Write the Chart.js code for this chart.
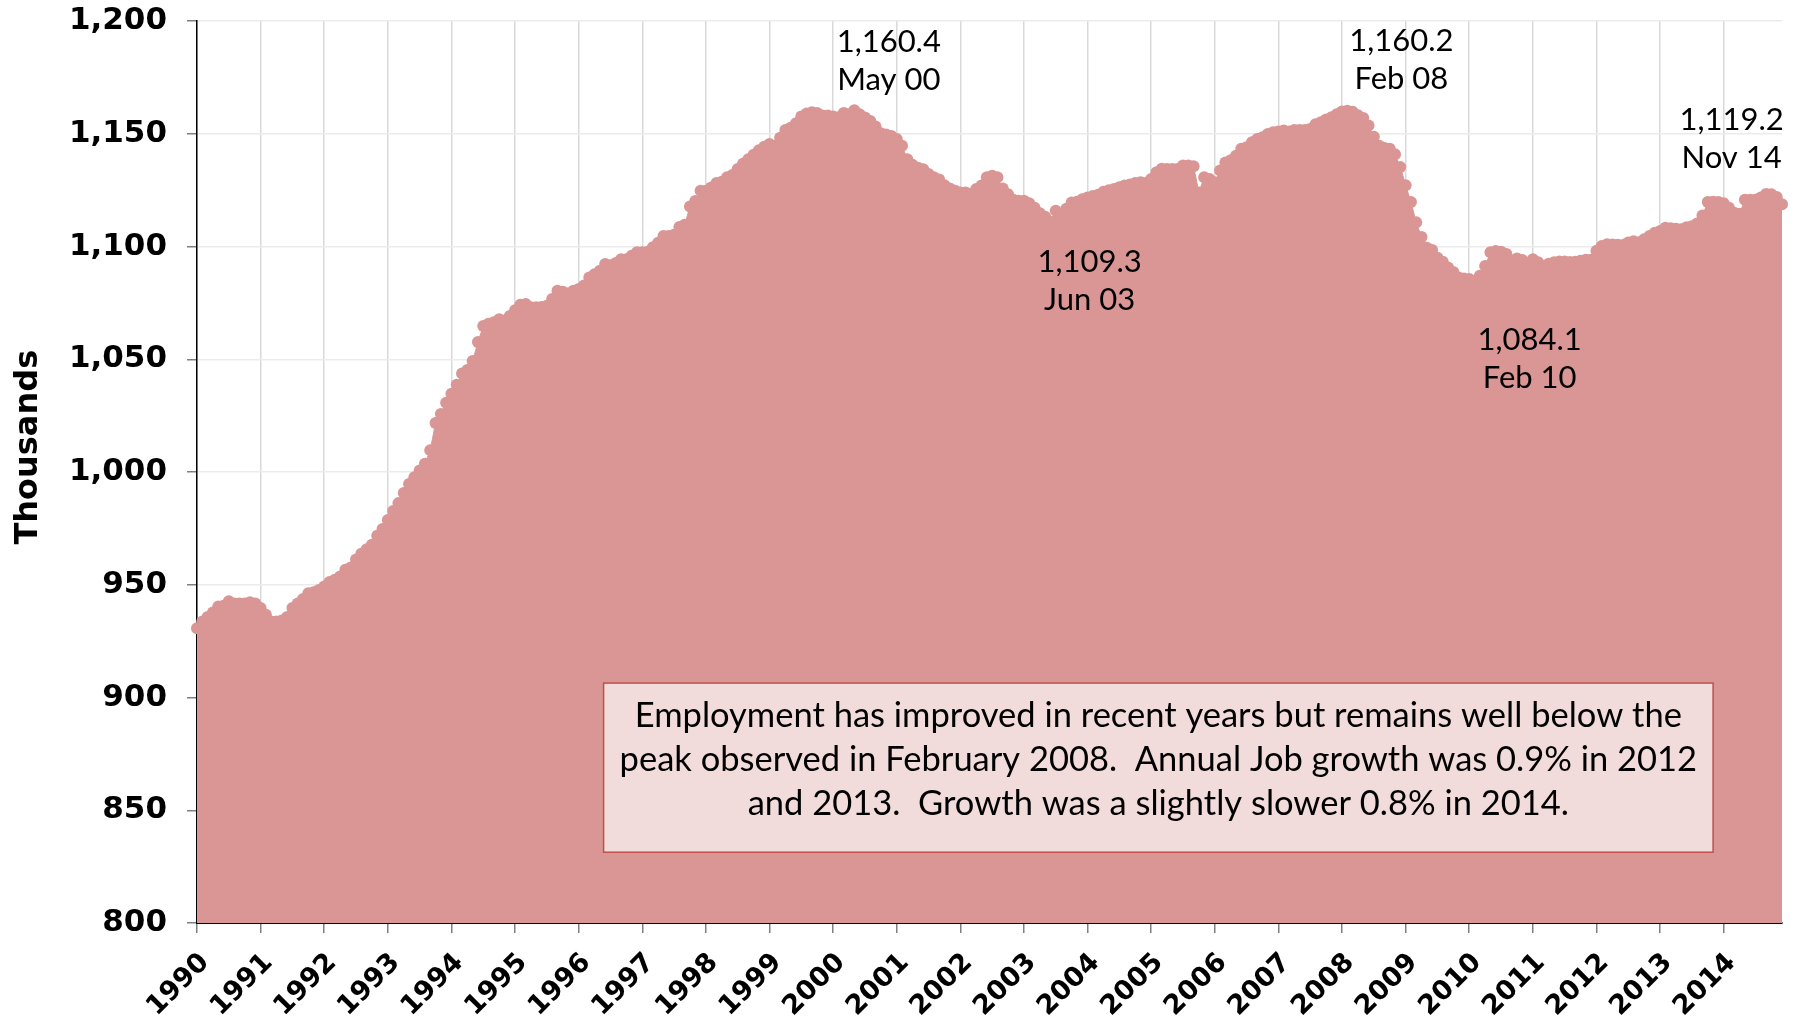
<!DOCTYPE html>
<html>
<head>
<meta charset="utf-8">
<script src="https://cdn.jsdelivr.net/npm/chart.js@4.4.1/dist/chart.umd.min.js"></script>
<style>
  html, body { margin: 0; background: #fff; }
  #wrap { width: 1805px; height: 1016px; }
</style>
</head>
<body>
<div id="wrap"><canvas id="emp" width="1805" height="1016"></canvas></div>
<script>
// años y meses del eje x
const years = ['1990','1991','1992','1993','1994','1995','1996','1997','1998','1999','2000','2001','2002',
               '2003','2004','2005','2006','2007','2008','2009','2010','2011','2012','2013','2014'];
const monthNames = ['Jan','Feb','Mar','Apr','May','Jun','Jul','Aug','Sep','Oct','Nov','Dec'];

// empleo mensual (miles)
const employment = [
  930.7, 933.7, 935.7, 937.7, 940.3, 940.7, 942.7, 941.7, 941.7, 941.7, 942.2, 941.7,        // 1990
  939.7, 936.7, 933.7, 933.7, 934.2, 935.7, 939.7, 941.7, 943.7, 946.2, 946.7, 947.7,        // 1991
  949.2, 951.2, 952.2, 953.7, 956.7, 957.7, 961.2, 963.7, 965.7, 967.7, 971.7, 974.7,        // 1992
  978.7, 982.7, 986.2, 990.7, 994.7, 997.7, 1000.7, 1003.7, 1009.7, 1021.7, 1025.7, 1030.7,  // 1993
  1034.7, 1038.7, 1043.7, 1045.2, 1049.2, 1057.7, 1064.7, 1065.7, 1066.4, 1067.7, 1067.2, 1069.2, // 1994
  1071.7, 1074.2, 1074.5, 1073.1, 1073.1, 1073.2, 1073.7, 1076.7, 1080.4, 1079.9, 1079.2, 1080.4, // 1995
  1081.2, 1082.7, 1086.3, 1087.7, 1089.2, 1092.2, 1091.7, 1092.7, 1094.4, 1094.4, 1095.9, 1097.4, // 1996
  1097.4, 1097.7, 1099.7, 1101.7, 1104.7, 1104.7, 1105.2, 1108.7, 1109.7, 1117.7, 1120.2, 1124.7, // 1997
  1124.7, 1126.2, 1128.2, 1128.7, 1130.7, 1131.7, 1134.4, 1136.7, 1138.7, 1140.7, 1142.7, 1144.2, // 1998
  1145.5, 1144.7, 1148.2, 1151.7, 1152.7, 1154.7, 1157.7, 1159.0, 1159.5, 1159.2, 1158.1, 1158.1, // 1999
  1157.7, 1157.3, 1159.2, 1158.7, 1160.4, 1158.7, 1157.2, 1155.7, 1153.2, 1150.2, 1149.7, 1149.0, // 2000
  1147.7, 1144.7, 1138.7, 1136.2, 1134.9, 1134.3, 1132.2, 1130.7, 1129.7, 1127.2, 1125.7, 1124.7, // 2001
  1124.0, 1124.0, 1123.3, 1125.5, 1127.0, 1130.7, 1131.4, 1130.7, 1125.7, 1123.2, 1120.7, 1120.3, // 2002
  1120.3, 1119.2, 1117.2, 1114.7, 1113.2, 1111.0, 1115.9, 1114.2, 1116.7, 1119.5, 1119.9, 1121.0, // 2003
  1121.7, 1122.4, 1123.0, 1124.3, 1125.0, 1125.5, 1126.3, 1127.0, 1127.5, 1128.2, 1128.5, 1128.2, // 2004
  1129.9, 1132.9, 1134.5, 1134.4, 1134.4, 1134.4, 1135.9, 1135.9, 1135.6, 1124.0, 1130.7, 1129.9, // 2005
  1128.5, 1133.7, 1137.2, 1138.2, 1140.2, 1143.3, 1144.0, 1146.2, 1147.7, 1148.5, 1149.9, 1150.7, // 2006
  1151.0, 1151.4, 1151.0, 1151.7, 1151.7, 1151.7, 1152.1, 1154.2, 1155.1, 1156.3, 1157.3, 1158.7, // 2007
  1159.9, 1160.2, 1159.8, 1158.2, 1157.0, 1153.7, 1148.7, 1144.7, 1143.7, 1143.3, 1140.9, 1135.2, // 2008
  1127.2, 1119.7, 1110.7, 1104.2, 1099.5, 1098.5, 1095.0, 1093.2, 1090.7, 1088.7, 1086.3, 1085.8, // 2009
  1085.6, 1084.1, 1087.0, 1091.4, 1097.4, 1098.0, 1097.7, 1096.7, 1093.0, 1094.7, 1094.0, 1092.2, // 2010
  1094.4, 1093.0, 1091.2, 1092.4, 1093.0, 1093.3, 1093.3, 1093.1, 1093.2, 1093.7, 1094.1, 1094.1, // 2011
  1098.1, 1100.2, 1101.0, 1100.9, 1100.8, 1100.7, 1101.8, 1102.3, 1101.9, 1103.2, 1104.7, 1106.1, // 2012
  1106.9, 1108.3, 1108.1, 1107.9, 1107.7, 1108.5, 1109.0, 1110.2, 1113.7, 1119.7, 1119.9, 1119.7, // 2013
  1119.2, 1117.2, 1115.0, 1114.5, 1120.7, 1120.7, 1120.7, 1121.7, 1123.3, 1123.2, 1122.0, 1118.7  // 2014
];

const yTicks = [800, 850, 900, 950, 1000, 1050, 1100, 1150, 1200];

// notas de picos y valles
const noteValues = [1160.4, 1109.3, 1160.2, 1084.1, 1119.2];
const noteMonths = ['May 00', 'Jun 03', 'Feb 08', 'Feb 10', 'Nov 14'];
const noteAtIndex = [130.5, 168.4, 227.2, 251.4, 289.5];
const noteAtValue = [1186.4, 1088.8, 1186.8, 1054.2, 1151.8];

const boxLines = [
  'Employment has improved in recent years but remains well below the',
  'peak observed in February 2008.  Annual Job growth was 0.9% in 2012',
  'and 2013.  Growth was a slightly slower 0.8% in 2014.'
];

const labels = [];
years.forEach(yr => monthNames.forEach(m => labels.push(m + ' ' + yr)));

const notesPlugin = {
  id: 'notes',
  afterDatasetsDraw(chart) {
    const { ctx, scales: { x, y } } = chart;
    ctx.save();
    ctx.fillStyle = '#000';
    ctx.font = '31px Lato';
    ctx.textAlign = 'center';
    ctx.textBaseline = 'alphabetic';
    noteValues.forEach((v, k) => {
      const px = x.getPixelForValue(noteAtIndex[k]);
      const py = y.getPixelForValue(noteAtValue[k]);
      ctx.fillText(v.toLocaleString('en-US', { minimumFractionDigits: 1 }), px, py);
      ctx.fillText(noteMonths[k], px, py + 38);
    });

    // cuadro de texto
    const bx0 = x.getPixelForValue(76.7), bx1 = x.getPixelForValue(286);
    const by0 = y.getPixelForValue(906.4), by1 = y.getPixelForValue(831.4);
    ctx.fillStyle = '#f2dcdb';
    ctx.fillRect(bx0, by0, bx1 - bx0, by1 - by0);
    ctx.strokeStyle = '#c0504d';
    ctx.lineWidth = 1.5;
    ctx.strokeRect(bx0, by0, bx1 - bx0, by1 - by0);
    ctx.fillStyle = '#000';
    ctx.font = '34.5px Lato';
    ctx.textBaseline = 'middle';
    const cx = (bx0 + bx1) / 2;
    boxLines.forEach((t, k) => ctx.fillText(t, cx, by0 + 33 + k * 44));

    // titulo del eje y
    ctx.font = 'bold 32px "DejaVu Sans"';
    ctx.translate(y.left + 29, y.getPixelForValue(1011));
    ctx.rotate(-Math.PI / 2);
    ctx.fillText('Thousands', 0, 0);
    ctx.restore();
  }
};

const areaColor = '#d99694';

new Chart(document.getElementById('emp'), {
  type: 'line',
  data: {
    labels: labels,
    datasets: [{
      data: employment,
      fill: 'start',
      backgroundColor: areaColor,
      borderColor: areaColor,
      borderWidth: 1,
      pointRadius: 6,
      pointBackgroundColor: areaColor,
      pointBorderWidth: 0,
      tension: 0
    }]
  },
  options: {
    responsive: false,
    animation: false,
    events: [],
    layout: { padding: { top: 0, right: 23, left: 0, bottom: 0 } },
    plugins: { legend: { display: false }, tooltip: { enabled: false } },
    scales: {
      x: {
        afterFit: s => { s.height = 93; s.paddingLeft = 0; s.paddingRight = 0; },
        grid: {
          color: c => (c.index % 12 === 0 ? '#d9d9d9' : 'transparent'),
          tickColor: c => (c.index % 12 === 0 ? '#808080' : 'transparent'),
          lineWidth: 1.5,
          tickLength: 10
        },
        border: { color: '#000', width: 2 },
        ticks: {
          autoSkip: false,
          minRotation: 45,
          maxRotation: 45,
          padding: 14,
          labelOffset: 8,
          color: '#000',
          font: { family: 'DejaVu Sans', weight: 'bold', size: 27 },
          callback: (v, i) => (i % 12 === 0 ? years[i / 12] : '')
        }
      },
      y: {
        min: yTicks[0],
        max: yTicks[yTicks.length - 1],
        afterFit: s => { s.width = 197; s.paddingTop = 21; s.paddingBottom = 0; },
        afterBuildTicks: s => { s.ticks = yTicks.map(v => ({ value: v })); },
        grid: { color: '#ebebeb', lineWidth: 1.5, tickColor: '#808080', tickLength: 10 },
        border: { color: '#000', width: 1.5 },
        ticks: {
          padding: 20,
          color: '#000',
          font: { family: 'DejaVu Sans', weight: 'bold', size: 31 },
          callback: v => v.toLocaleString('en-US')
        }
      }
    }
  },
  plugins: [notesPlugin]
});
</script>
</body>
</html>
